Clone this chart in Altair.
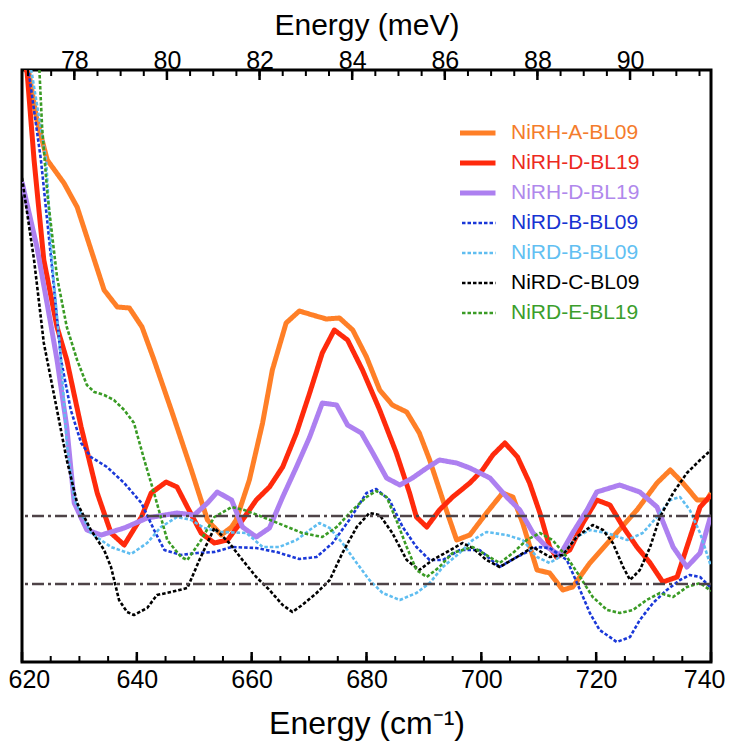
import altair as alt
import pandas as pd

# ---------------- data ----------------
CM_PER_MEV = 8.06554
X_MIN, X_MAX = 620, 740
Y_MIN, Y_MAX = 0.0, 5.92

SERIES = ["NiRH-A-BL09", "NiRH-D-BL19", "NiRH-D-BL19 ", "NiRD-B-BL09",
          "NiRD-B-BL09 ", "NiRD-C-BL09", "NiRD-E-BL19"]

nirh_a_bl09 = [(620.0, 6.10), (621.2, 5.89), (622.6, 5.42), (624.4, 5.02), (627.3, 4.79), (629.6, 4.55),
               (634.3, 3.72), (636.6, 3.55), (638.7, 3.54), (640.9, 3.35), (643.0, 3.02), (646.0, 2.52),
               (649.5, 1.92), (652.3, 1.42), (654.7, 1.27), (656.5, 1.35), (657.3, 1.42), (659.6, 1.82),
               (661.9, 2.39), (663.6, 2.92), (666.0, 3.39), (668.3, 3.51), (670.6, 3.47), (673.0, 3.43),
               (675.3, 3.44), (677.6, 3.32), (680.0, 3.05), (682.3, 2.72), (684.5, 2.57), (687.0, 2.50),
               (689.2, 2.29), (691.0, 2.02), (693.3, 1.62), (695.7, 1.22), (698.0, 1.27), (700.9, 1.49),
               (703.7, 1.69), (705.5, 1.65), (707.2, 1.39), (709.7, 0.92), (711.9, 0.89), (714.2, 0.72),
               (715.9, 0.75), (718.9, 0.99), (722.9, 1.25), (727.1, 1.52), (730.6, 1.79), (732.9, 1.92),
               (735.1, 1.79), (737.6, 1.62), (739.3, 1.62), (740.0, 1.69)]

nirh_d_bl19_red = [(620.0, 6.10), (620.9, 5.89), (622.1, 5.02), (623.8, 4.02), (626.1, 3.35), (627.8, 3.02),
                   (630.3, 2.35), (633.1, 1.69), (635.5, 1.29), (637.8, 1.17), (640.8, 1.45), (642.5, 1.69),
                   (645.1, 1.80), (647.0, 1.75), (648.8, 1.55), (651.2, 1.29), (653.5, 1.19), (655.8, 1.22),
                   (658.4, 1.42), (660.8, 1.62), (663.1, 1.75), (665.4, 1.95), (667.8, 2.29), (670.1, 2.69),
                   (672.3, 3.09), (674.4, 3.32), (676.7, 3.22), (679.3, 2.92), (682.3, 2.52), (685.2, 2.09),
                   (687.5, 1.69), (688.7, 1.45), (690.5, 1.35), (692.7, 1.52), (695.0, 1.65), (698.0, 1.79),
                   (700.2, 1.92), (702.0, 2.07), (704.1, 2.19), (706.3, 2.05), (708.4, 1.79), (710.2, 1.49),
                   (711.9, 1.15), (713.1, 1.05), (715.4, 1.12), (717.7, 1.39), (720.1, 1.62), (722.4, 1.57),
                   (724.7, 1.35), (727.1, 1.15), (729.4, 0.99), (731.6, 0.80), (734.1, 0.85), (735.8, 1.15),
                   (738.1, 1.55), (740.0, 1.67)]

nirh_d_bl19_purple = [(620.0, 4.80), (622.6, 4.15), (625.1, 3.35), (626.1, 3.02), (627.8, 2.35), (629.1, 1.59),
                      (631.3, 1.32), (633.8, 1.27), (637.8, 1.34), (641.8, 1.44), (647.0, 1.49), (650.0, 1.47),
                      (652.3, 1.59), (654.0, 1.70), (656.5, 1.62), (658.4, 1.35), (660.8, 1.25), (663.1, 1.34),
                      (665.4, 1.65), (667.8, 1.95), (670.1, 2.25), (672.3, 2.59), (674.8, 2.57), (676.7, 2.37),
                      (679.1, 2.29), (681.1, 2.09), (683.5, 1.84), (685.8, 1.77), (688.0, 1.84), (690.5, 1.94),
                      (692.7, 2.02), (695.7, 1.99), (698.0, 1.94), (701.5, 1.84), (704.4, 1.65), (706.7, 1.52),
                      (709.0, 1.29), (711.4, 1.15), (713.7, 1.07), (715.9, 1.29), (718.4, 1.52), (720.1, 1.70),
                      (724.1, 1.77), (727.6, 1.70), (730.6, 1.55), (733.4, 1.15), (735.8, 0.95), (738.1, 1.09),
                      (740.0, 1.47)]

nird_b_bl09_blue = [(620.0, 6.10), (621.2, 5.89), (623.3, 5.02), (625.1, 4.02), (626.8, 3.02), (628.5, 2.52),
                    (630.3, 2.19), (632.0, 2.05), (634.8, 1.95), (637.8, 1.79), (640.8, 1.59), (643.0, 1.32),
                    (644.8, 1.12), (647.7, 1.07), (650.5, 1.09), (653.5, 1.10), (656.5, 1.15), (660.8, 1.14),
                    (664.3, 1.10), (668.3, 1.03), (671.3, 1.05), (674.1, 1.19), (677.0, 1.42), (680.0, 1.69),
                    (681.7, 1.73), (684.0, 1.62), (686.3, 1.35), (688.7, 1.15), (691.0, 1.02), (693.3, 1.02),
                    (696.2, 1.12), (699.7, 1.12), (703.2, 0.95), (706.2, 1.05), (709.7, 1.15), (711.9, 1.14),
                    (714.9, 1.02), (717.2, 0.72), (718.9, 0.49), (720.6, 0.32), (723.6, 0.20), (725.9, 0.25),
                    (727.6, 0.42), (729.9, 0.59), (732.3, 0.72), (734.6, 0.82), (736.3, 0.87), (738.1, 0.85),
                    (740.0, 0.74)]

nird_b_bl09_light = [(620.0, 6.30), (621.7, 5.89), (624.2, 5.02), (625.2, 4.02), (626.8, 3.02), (627.8, 2.19),
                     (629.1, 1.62), (632.0, 1.29), (635.5, 1.15), (639.0, 1.08), (641.8, 1.19), (644.2, 1.35),
                     (647.0, 1.45), (649.5, 1.42), (651.7, 1.34), (654.7, 1.30), (659.1, 1.29), (661.9, 1.15),
                     (664.8, 1.15), (667.8, 1.22), (670.1, 1.32), (671.8, 1.39), (673.6, 1.34), (675.8, 1.19),
                     (678.3, 0.99), (680.5, 0.82), (682.8, 0.69), (685.8, 0.62), (688.7, 0.69), (691.0, 0.79),
                     (693.3, 0.95), (696.2, 1.09), (698.5, 1.22), (700.9, 1.30), (704.4, 1.27), (707.2, 1.22),
                     (709.7, 1.05), (711.9, 0.99), (714.2, 1.07), (716.6, 1.25), (718.9, 1.32), (721.9, 1.29),
                     (725.4, 1.22), (728.1, 1.29), (730.6, 1.45), (732.9, 1.62), (734.6, 1.65), (736.3, 1.52),
                     (738.1, 1.29), (739.8, 0.99), (740.0, 0.97)]

nird_c_bl09 = [(620.0, 4.84), (622.1, 4.02), (623.8, 3.19), (626.1, 2.52), (627.8, 2.02), (629.6, 1.59),
               (632.0, 1.32), (634.3, 1.12), (635.5, 0.95), (636.9, 0.62), (638.3, 0.50), (639.5, 0.47),
               (641.8, 0.54), (643.5, 0.67), (646.0, 0.70), (648.8, 0.74), (650.9, 1.02), (653.5, 1.34),
               (656.1, 1.19), (658.4, 1.02), (660.8, 0.85), (663.1, 0.72), (665.4, 0.57), (667.1, 0.50),
               (668.8, 0.57), (671.3, 0.69), (673.6, 0.82), (675.8, 1.09), (678.3, 1.35), (680.5, 1.49),
               (682.3, 1.47), (684.5, 1.29), (687.0, 1.02), (689.2, 0.92), (691.5, 1.02), (694.0, 1.10),
               (696.7, 1.19), (698.5, 1.14), (700.9, 1.02), (703.2, 0.95), (706.2, 1.05), (709.0, 1.15),
               (711.9, 1.05), (714.2, 1.07), (716.6, 1.25), (719.4, 1.37), (721.2, 1.32), (722.9, 1.19),
               (724.7, 0.95), (725.9, 0.82), (727.6, 0.92), (729.4, 1.15), (731.1, 1.45), (733.4, 1.69),
               (735.8, 1.89), (738.1, 2.02), (740.0, 2.12)]

nird_e_bl19 = [(622.8, 6.20), (623.5, 5.35), (624.4, 4.69), (626.1, 3.85), (627.8, 3.35), (629.6, 3.02),
               (631.3, 2.77), (632.6, 2.70), (634.3, 2.67), (636.0, 2.62), (637.8, 2.52), (639.5, 2.39),
               (641.3, 2.02), (643.0, 1.69), (645.3, 1.22), (647.7, 1.05), (648.8, 1.02), (651.2, 1.22),
               (653.5, 1.45), (656.5, 1.55), (658.7, 1.52), (661.9, 1.45), (665.4, 1.37), (668.8, 1.29),
               (672.3, 1.25), (674.8, 1.35), (677.6, 1.52), (680.0, 1.65), (681.7, 1.71), (683.5, 1.65),
               (685.2, 1.42), (687.0, 1.15), (688.7, 0.92), (690.5, 0.85), (692.7, 0.95), (695.0, 1.09),
               (698.5, 1.15), (703.2, 0.99), (705.5, 1.09), (707.9, 1.22), (710.2, 1.29), (712.4, 1.22),
               (714.9, 1.05), (717.2, 0.85), (719.4, 0.65), (721.9, 0.52), (724.1, 0.49), (726.4, 0.52),
               (728.8, 0.62), (731.1, 0.69), (733.4, 0.65), (735.8, 0.75), (738.1, 0.79), (739.8, 0.72),
               (740.0, 0.71)]

REF_LEVELS = [1.46, 0.78]

CM_LABELS = [620, 640, 660, 680, 700, 720, 740]
CM_TICKS_MINOR = [620, 625, 630, 635, 640, 645, 650, 655, 660, 665, 670, 675, 680, 685, 690, 695,
                  700, 705, 710, 715, 720, 725, 730, 735, 740]
MEV_LABELS = [78, 80, 82, 84, 86, 88, 90]
MEV_TICKS_MINOR = [77.0, 77.5, 78.0, 78.5, 79.0, 79.5, 80.0, 80.5, 81.0, 81.5, 82.0, 82.5, 83.0, 83.5,
                   84.0, 84.5, 85.0, 85.5, 86.0, 86.5, 87.0, 87.5, 88.0, 88.5, 89.0, 89.5, 90.0, 90.5,
                   91.0, 91.5]

# ---------------- styles ----------------
COLORS = ["#ff7f27", "#ff2a0c", "#ad80f0", "#1a38d8", "#5fbdf0", "#000000", "#3a9b25"]
LABEL_COLORS = ["#f47c2c", "#ec2a1e", "#b088ec", "#1733d2", "#62bff2", "#000000", "#3b9e2c"]
DASHES = [[1, 0], [1, 0], [1, 0], [3.5, 2], [3.5, 2], [3.5, 2], [3.5, 2]]
WIDTHS = [5, 5, 5, 2.6, 2.6, 2.6, 2.6]
FONT = "Liberation Sans, Arial, Helvetica, sans-serif"
LEGEND_FONT = "Liberation Sans Narrow, Arial Narrow, Liberation Sans, sans-serif"
PLOT_W, PLOT_H = 689, 592

ALL = [nirh_a_bl09, nirh_d_bl19_red, nirh_d_bl19_purple, nird_b_bl09_blue,
       nird_b_bl09_light, nird_c_bl09, nird_e_bl19]

rows = []
for name, pts, w in zip(SERIES, ALL, WIDTHS):
    for i, (xv, yv) in enumerate(pts):
        rows.append({"series": name, "x": xv, "y": yv, "w": w, "i": i})
df = pd.DataFrame(rows)

color_expr = " : ".join(f"datum.value === '{s}' ? '{c}'" for s, c in zip(SERIES, LABEL_COLORS)) + " : 'black'"
width_expr = " : ".join(f"datum.value === '{s}' ? {w}" for s, w in zip(SERIES, WIDTHS)) + " : 2"

legend = alt.Legend(
    title=None, orient="none", legendX=438, legendY=48, padding=0,
    symbolType="stroke", symbolSize=2500, symbolStrokeWidth=alt.ExprRef(width_expr),
    labelFont=LEGEND_FONT, labelFontSize=21, labelColor=alt.ExprRef(color_expr),
    labelOffset=30, labelLimit=400, clipHeight=30, rowPadding=0,
)

x_cm = alt.X(
    "x:Q",
    scale=alt.Scale(domain=[X_MIN, X_MAX], nice=False, zero=False),
    axis=alt.Axis(
        orient="bottom", values=CM_LABELS, ticks=False, tickSize=0, domain=False, grid=False,
        labelFont=FONT, labelFontSize=25, labelColor="black", labelBaseline="alphabetic",
        labelPadding=25, labelFlush=True, labelFlushOffset=14, labelOverlap=False,
        title="Energy (cm⁻¹)", titleFont=FONT, titleFontSize=32, titleFontWeight=400,
        titleColor="black", titleBaseline="alphabetic", titleY=71,
    ),
)
y_enc = alt.Y("y:Q", scale=alt.Scale(domain=[Y_MIN, Y_MAX], nice=False, zero=False), axis=None)

lines = alt.Chart(df).mark_line(clip=True, strokeCap="butt", strokeJoin="round").encode(
    x=x_cm,
    y=y_enc,
    color=alt.Color("series:N", scale=alt.Scale(domain=SERIES, range=COLORS), legend=legend),
    strokeDash=alt.StrokeDash("series:N", scale=alt.Scale(domain=SERIES, range=DASHES), legend=legend),
    strokeWidth=alt.StrokeWidth("w:Q", scale=None),
    order="i:Q",
)

ref_lines = alt.Chart(pd.DataFrame({"y": REF_LEVELS})).mark_rule(
    color="#4e4347", strokeWidth=2.5, strokeDash=[12, 4, 3, 4]
).encode(y=y_enc)

bt_minor = alt.Chart(pd.DataFrame({"x": CM_TICKS_MINOR})).mark_rule(color="black", strokeWidth=2).encode(
    x=x_cm, y=alt.value(PLOT_H), y2=alt.value(PLOT_H - 6))
bt_major = alt.Chart(pd.DataFrame({"x": CM_LABELS})).mark_rule(color="black", strokeWidth=2.5).encode(
    x=x_cm, y=alt.value(PLOT_H), y2=alt.value(PLOT_H - 10))

x_mev = alt.X(
    "mev:Q",
    scale=alt.Scale(domain=[X_MIN / CM_PER_MEV, X_MAX / CM_PER_MEV], nice=False, zero=False),
    axis=alt.Axis(
        orient="top", values=MEV_LABELS, ticks=False, tickSize=0, domain=False, grid=False,
        labelFont=FONT, labelFontSize=25, labelColor="black", labelBaseline="alphabetic",
        labelPadding=2, labelOverlap=False,
        title="Energy (meV)", titleFont=FONT, titleFontSize=30, titleFontWeight=400,
        titleColor="black", titleBaseline="alphabetic", titleY=-36,
    ),
)
tt_minor = alt.Chart(pd.DataFrame({"mev": MEV_TICKS_MINOR})).mark_rule(color="black", strokeWidth=2).encode(
    x=x_mev, y=alt.value(0), y2=alt.value(6))
tt_major = alt.Chart(pd.DataFrame({"mev": MEV_LABELS})).mark_rule(color="black", strokeWidth=2.5).encode(
    x=x_mev, y=alt.value(0), y2=alt.value(10))

inner = alt.layer(bt_minor, bt_major, lines, ref_lines)
top = alt.layer(tt_minor, tt_major)

chart = (
    alt.layer(inner, top)
    .resolve_scale(x="independent")
    .properties(
        width=PLOT_W, height=PLOT_H,
        autosize=alt.AutoSizeParams(type="none"),
        padding={"left": 14, "top": 62, "right": 15, "bottom": 80},
        background="white",
    )
    .configure_view(stroke="black", strokeWidth=3)
)

chart.save("out.html", embed_options={"renderer": "svg", "actions": False})
